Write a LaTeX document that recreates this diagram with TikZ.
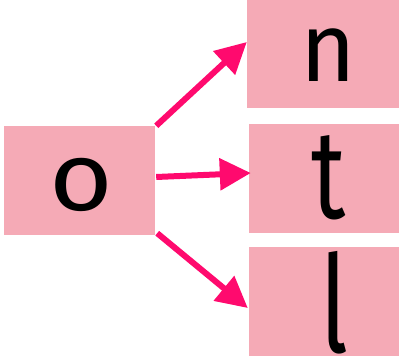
\documentclass[tikz,border=0pt]{standalone}
\usepackage{fontspec}
\setmainfont{Fira Sans}
\usetikzlibrary{arrows.meta}
\definecolor{boxpink}{RGB}{245,170,182}
\definecolor{arrowpink}{RGB}{255,10,110}
\begin{document}
\begin{tikzpicture}[x=1pt,y=1pt,
  box/.style={fill=boxpink,draw=none,minimum width=#1,minimum height=109pt,inner sep=0pt},
  letter/.style={anchor=base,inner sep=0pt,font=\fontsize{95}{100}\selectfont},
  arr/.style={draw=arrowpink,line width=6pt,-{Triangle[length=31pt,width=31pt]}}]
\useasboundingbox (0,0) rectangle (399,362);
\node[box=151pt] (o) at (79.5,181.5) {};
\node[box=152pt,minimum height=108pt] (n) at (323,308) {};
\node[box=150pt] (t) at (324,183.5) {};
\node[box=150pt] (l) at (324,60.5) {};
\node[letter] (ot) at (81.7,151) {\scalebox{1.15}[1.02]{o}};
\node[letter] (nt) at (328,280) {\scalebox{1}[1.03]{n}};
\node[letter] (tt) at (329,143) {\scalebox{1}[1.33]{t}};
\node[letter] (lt) at (334,10) {\scalebox{1}[1.42]{l}};
\draw[arr] ([xshift=1pt]o.north east) -- ([yshift=12pt]n.west);
\draw[arr] ([xshift=1pt,yshift=3.5pt]o.east) -- ([xshift=2pt,yshift=5.5pt]t.west);
\draw[arr] ([xshift=2pt,yshift=2pt]o.south east) -- ([xshift=-1pt,yshift=-6.5pt]l.west);
\end{tikzpicture}
\end{document}
